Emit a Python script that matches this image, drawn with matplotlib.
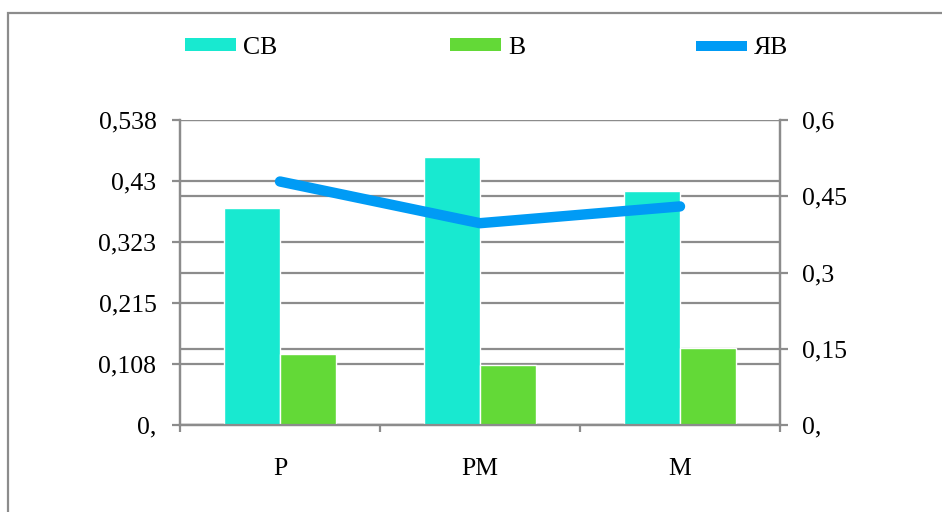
import matplotlib
matplotlib.use('Agg')
import matplotlib.pyplot as plt
from matplotlib.patches import Patch, Rectangle
from matplotlib.lines import Line2D
import numpy as np

plt.rcParams['font.family'] = ['Liberation Serif', 'DejaVu Serif']

categories = ['Р', 'РМ', 'М']
sv = [0.382, 0.473, 0.412]
v = [0.126, 0.106, 0.136]
yav = [0.479, 0.397, 0.430]

left_ticks = [0, 0.1076, 0.2152, 0.3228, 0.4304, 0.538]
left_labels = ['0,', '0,108', '0,215', '0,323', '0,43', '0,538']
right_ticks = [0, 0.15, 0.3, 0.45, 0.6]
right_labels = ['0,', '0,15', '0,3', '0,45', '0,6']

c_sv = '#18E9D0'
c_v = '#63D937'
c_yav = '#009BF5'
gray = '#8C8C8C'
fs = 18.5

fig = plt.figure(figsize=(9.42, 5.12), dpi=100)
ax = fig.add_axes([180 / 942, 87 / 512, 600 / 942, 305 / 512])
ax2 = ax.twinx()
ax.set_zorder(ax2.get_zorder() + 1)
ax.patch.set_visible(False)

x = np.arange(len(categories))
w = 0.28
ax.bar(x - w / 2, sv, w, color=c_sv, edgecolor='white', linewidth=1, zorder=2)
ax.bar(x + w / 2, v, w, color=c_v, edgecolor='white', linewidth=1, zorder=2)
ax.plot(x, yav, color=c_yav, lw=7.5, solid_capstyle='round',
        solid_joinstyle='round', transform=ax2.transData, zorder=3)

ax.set_xlim(-0.5, 2.5)
ax.set_ylim(0, 0.538)
ax2.set_ylim(0, 0.6)

ax.set_yticks(left_ticks, left_labels)
ax2.set_yticks(right_ticks, right_labels)
ax.set_xticks([-0.5, 0.5, 1.5, 2.5], [])
ax.set_xticks(x, categories, minor=True)

ax.grid(axis='y', color=gray, lw=1.6)
ax2.grid(axis='y', color=gray, lw=1.6)
ax.set_axisbelow(True)

ax.tick_params(axis='y', direction='out', length=6, width=1.6, color=gray,
               labelsize=fs, pad=11)
ax2.tick_params(axis='y', direction='out', length=6, width=1.6, color=gray,
                labelsize=fs, pad=10)
ax.tick_params(axis='x', which='major', direction='out', length=5, width=1.6, color=gray)
ax.tick_params(axis='x', which='minor', length=0, labelsize=fs, pad=24)

for a in (ax, ax2):
    a.spines['top'].set_visible(False)
    for s in ('left', 'right', 'bottom'):
        a.spines[s].set_color(gray)
        a.spines[s].set_linewidth(1.6)

# legend entries placed separately like in the original
handles = [Patch(facecolor=c_sv, edgecolor='none'),
           Patch(facecolor=c_v, edgecolor='none'),
           Line2D([], [], color=c_yav, lw=7.2, solid_capstyle='butt')]
labels = ['СВ', 'В', 'ЯВ']
xs = [185, 450, 696]
for h, l, xp in zip(handles, labels, xs):
    fig.legend([h], [l], loc='center left', bbox_to_anchor=(xp / 942, 1 - 48 / 512),
               frameon=False, fontsize=fs, borderpad=0, borderaxespad=0,
               handlelength=2.0, handleheight=0.4, handletextpad=0.25)

fig.patches.append(Rectangle((8 / 942, -0.1), 2, 0.1 + (512 - 13) / 512,
                             transform=fig.transFigure, fill=False,
                             edgecolor=gray, lw=1.6))

fig.savefig('out.png', dpi=100)
